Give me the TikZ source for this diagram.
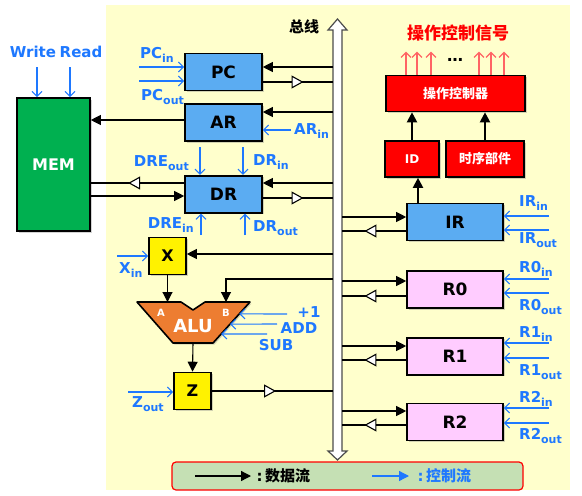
\documentclass[tikz,border=0pt]{standalone}
\usepackage{fontspec}
\setmainfont{DejaVu Sans}
\newfontfamily\cjk{Noto Sans CJK SC}
\usetikzlibrary{arrows.meta,positioning,calc,decorations.markings,shadows}
\definecolor{busbg}{RGB}{255,255,204}
\definecolor{regblue}{RGB}{91,172,242}
\definecolor{ctlblue}{RGB}{30,120,255}
\definecolor{memgreen}{RGB}{0,176,80}
\definecolor{aluorange}{RGB}{237,125,49}
\definecolor{regpink}{RGB}{255,204,255}
\definecolor{legendgreen}{RGB}{197,224,180}
\definecolor{sigred}{RGB}{255,100,100}
\newcommand{\lsub}[1]{\raisebox{-0.45ex}{\fontsize{11}{11}\selectfont #1}}

\begin{document}
\begin{tikzpicture}[x=1pt, y=-1pt,
    shd/.style={drop shadow={shadow xshift=1.5pt, shadow yshift=-1.5pt, opacity=.35}},
    reg/.style={shd, draw, line width=1.6pt, fill=regblue, minimum width=77pt, minimum height=37pt, inner sep=0pt, font=\bfseries\fontsize{17}{17}\selectfont},
    sq/.style={shd, draw, line width=1.6pt, fill=yellow, minimum size=37pt, inner sep=0pt, font=\bfseries\fontsize{16}{16}\selectfont},
    ctl/.style={shd, draw, line width=1.6pt, fill=red, text=white, minimum height=36pt, inner sep=0pt, font=\cjk\bfseries\fontsize{13}{13}\selectfont},
    lbl/.style={text=ctlblue, inner sep=0pt, font=\bfseries\fontsize{15}{15}\selectfont},
    df/.style={line width=1.1pt, -{Triangle[length=10pt,width=10pt]}},
    buf/.style={line width=1.1pt, postaction={decorate}, decoration={markings, mark=at position #1 with {\arrow{Triangle[fill=white,length=12pt,width=13pt]}}}},
    cf/.style={ctlblue, line width=1.1pt, -{Straight Barb[length=5pt,width=10pt]}},
    thk/.style={line width=2pt, -{Triangle[length=10pt,width=10pt]}},
    sg/.style={sigred, line width=1.1pt, -{Straight Barb[length=5pt,width=10pt]}}]
  \useasboundingbox (0,0) rectangle (582,496);
  \fill[busbg] (106,5) rectangle (570,490);

  \draw[gray!60!black, line width=1.2pt, fill=white] (333,30) -- (328,30) -- (337.5,19) -- (347,30) -- (342,30) -- (342,451) -- (347,451) -- (337.5,460) -- (328,451) -- (333,451) -- cycle;
  \coordinate (busL) at (333,240);
  \coordinate (busR) at (342,240);
  \node[font=\cjk\bfseries\fontsize{15}{15}\selectfont] (busname) at (304,27) {总线};

  \node[shd, draw, line width=1.6pt, fill=memgreen, minimum width=73pt, minimum height=133pt, text=white, font=\bfseries\fontsize{16}{16}\selectfont] (MEM) at (53.5,164.5) {MEM};
  \node[reg] (PC) at (223.5,72) {PC};
  \node[reg, below=12pt of PC] (AR) {AR};
  \node[reg, below=33pt of AR] (DR) {DR};
  \node[sq] (X) at (167.5,256) {X};
  \node[sq] (Z) at (192.5,391) {Z};

  \coordinate (aluTL) at (137,302); \coordinate (aluTR) at (250,302);
  \coordinate (aluBR) at (213,343); \coordinate (aluBL) at (173,343);
  \coordinate (aluA) at (167,302); \coordinate (aluB) at (226,302); \coordinate (aluO) at (193,343);
  \draw[shd, line width=1.6pt, fill=aluorange, line join=round] (aluTL) -- (181,302) -- (193,310) -- (205,302) -- (aluTR) -- (aluBR) -- (aluBL) -- cycle;
  \node[text=white, font=\bfseries\fontsize{18}{18}\selectfont] (alu) at (193,326) {ALU};
  \node[text=white, font=\bfseries\fontsize{10}{10}\selectfont] (aluAl) at (161,313) {A};
  \node[text=white, font=\bfseries\fontsize{10}{10}\selectfont] (aluBl) at (226,313) {B};

  \node[reg, minimum width=96pt] (IR) at (455,222) {IR};
  \node[reg, fill=regpink, minimum width=96pt, below=29pt of IR] (R0) {R0};
  \node[reg, fill=regpink, minimum width=96pt, below=28pt of R0] (R1) {R1};
  \node[reg, fill=regpink, minimum width=96pt, below=27pt of R1] (R2) {R2};

  \node[ctl, minimum width=139pt] (OC) at (455.5,93.5) {操作控制器};
  \node[ctl, minimum width=54pt, font=\bfseries\fontsize{12}{12}\selectfont] (ID) at (412,159) {ID};
  \node[ctl, minimum width=78pt] (TM) at (485,159) {时序部件};
  \node[text=red, font=\cjk\bfseries\fontsize{17}{17}\selectfont] (sig) at (458,33) {操作控制信号};
  \foreach \x in {406,417,431,479,491,504}
    \draw[sg] (OC.north -| \x,0) -- ++(0,-23);
  \node[font=\bfseries\fontsize{16}{16}\selectfont] (dots) at (455,60) {…};
  \draw[thk] (ID.north) -- (OC.south -| ID.north);
  \draw[thk] (TM.north) -- (OC.south -| TM.north);
  \draw[thk] ([xshift=6pt]ID.south |- IR.north) -- ([xshift=6pt]ID.south);

  \draw[df] (busL |- 0,67) -- (PC.east |- 0,67);
  \draw[buf=0.58] (PC.east |- 0,82) -- (busL |- 0,82);
  \draw[df] (busL |- 0,112) -- (AR.east |- 0,112);
  \draw[df] (AR.west |- 0,120) -- (MEM.east |- 0,120);
  \draw[df] (busL |- 0,183) -- (DR.east |- 0,183);
  \draw[buf=0.58] (DR.east |- 0,198) -- (busL |- 0,198);
  \draw[buf=0.6] (DR.west |- 0,183) -- (MEM.east |- 0,183);
  \draw[df] (MEM.east |- 0,196) -- (DR.west |- 0,196);
  \draw[df] (busL |- 0,254) -- (X.east |- 0,254);
  \draw[df] (busL |- 0,279) -| (aluB);
  \draw[df] (X.south) -- (X.south |- aluA);
  \draw[df] (aluO) -- (Z.north);
  \draw[buf=0.53] (Z.east) -- (busL |- Z.east);
  \foreach \reg/\a/\b in {IR/217/231, R0/281/296, R1/346/360, R2/411/425} {
    \draw[df] (busR |- 0,\a) -- (\reg.west |- 0,\a);
    \draw[buf=0.65] (\reg.west |- 0,\b) -- (busR |- 0,\b);
  }

  \node[lbl] (wrl) at (33,52) {Write};
  \node[lbl] (rdl) at (81,52) {Read};
  \coordinate (wr) at (37,67); \coordinate (rd) at (70,67);
  \draw[cf] (wr) -- (MEM.north -| wr);
  \draw[cf] (rd) -- (MEM.north -| rd);

  \node[lbl, anchor=west] (PCin) at (140,55) {PC\lsub{in}};
  \node[lbl, anchor=west] (PCout) at (141,97) {PC\lsub{out}};
  \coordinate (pci) at (139,67); \coordinate (pco) at (139,81);
  \draw[cf] (pci) -- (PC.west |- pci);
  \draw[cf] (pco) -- (PC.west |- pco);
  \node[lbl, anchor=west] (ARin) at (294,131) {AR\lsub{in}};
  \coordinate (ari) at (291,130);
  \draw[cf] (ari) -- (AR.east |- ari);

  \node[lbl, anchor=east] (DREout) at (189,163) {DRE\lsub{out}};
  \node[lbl, anchor=west] (DRin) at (253,162) {DR\lsub{in}};
  \node[lbl, anchor=east] (DREin) at (194,225) {DRE\lsub{in}};
  \node[lbl, anchor=west] (DRout) at (253,228) {DR\lsub{out}};
  \coordinate (dreo) at (200,147); \coordinate (dri) at (243,147);
  \coordinate (drei) at (201,235); \coordinate (dro) at (245,235);
  \draw[cf] (dreo) -- (DR.north -| dreo);
  \draw[cf] (dri) -- (DR.north -| dri);
  \draw[cf] (drei) -- (DR.south -| drei);
  \draw[cf] (dro) -- (DR.south -| dro);

  \node[lbl, anchor=west] (Xin) at (119,270) {X\lsub{in}};
  \coordinate (xi) at (117,256);
  \draw[cf] (xi) -- (X.west |- xi);
  \node[lbl, anchor=west] (Zout) at (132,404) {Z\lsub{out}};
  \coordinate (zo) at (128,392);
  \draw[cf] (zo) -- (Z.west |- zo);

  \node[lbl] (incl) at (309,312) {+1};
  \node[lbl] (addl) at (299,328) {ADD};
  \node[lbl] (subl) at (276,345) {SUB};
  \coordinate (inc) at (287,314); \coordinate (add) at (277,324); \coordinate (sub) at (267,334);
  \draw[cf] (inc) -- ($(aluTR)!0.29!(aluBR)$);
  \draw[cf] (add) -- ($(aluTR)!0.54!(aluBR)$);
  \draw[cf] (sub) -- ($(aluTR)!0.78!(aluBR)$);

  \foreach \reg/\yi/\yo/\li/\lo in {IR/216/230/203/240, R0/279/293/269/307, R1/343/358/334/372, R2/408/423/399/436} {
    \node[lbl, anchor=west] (\reg-inl) at (519,\li) {\reg\lsub{in}};
    \node[lbl, anchor=west] (\reg-outl) at (519,\lo) {\reg\lsub{out}};
    \coordinate (\reg-in) at (549,\yi); \coordinate (\reg-out) at (549,\yo);
    \draw[cf] (\reg-in) -- (\reg.east |- \reg-in);
    \draw[cf] (\reg-out) -- (\reg.east |- \reg-out);
  }

  \node[draw=red, line width=1.2pt, fill=legendgreen, rounded corners=4pt, minimum width=351pt, minimum height=28pt] (legend) at (347.5,476) {};
  \coordinate (lg1) at (195,476); \coordinate (lg2) at (251,476);
  \coordinate (lg3) at (372,476); \coordinate (lg4) at (409,476);
  \draw[df, line width=1.3pt] (lg1) -- (lg2);
  \node[anchor=west, font=\bfseries\fontsize{15}{15}\selectfont] (dlab) at (253,476) {:\,{\cjk 数据流}};
  \draw[ctlblue, line width=1.3pt, -{Triangle[length=10pt,width=10pt]}] (lg3) -- (lg4);
  \node[anchor=west, text=ctlblue, font=\bfseries\fontsize{15}{15}\selectfont] (clab) at (414,476) {:\,{\cjk 控制流}};
\end{tikzpicture}
\end{document}
